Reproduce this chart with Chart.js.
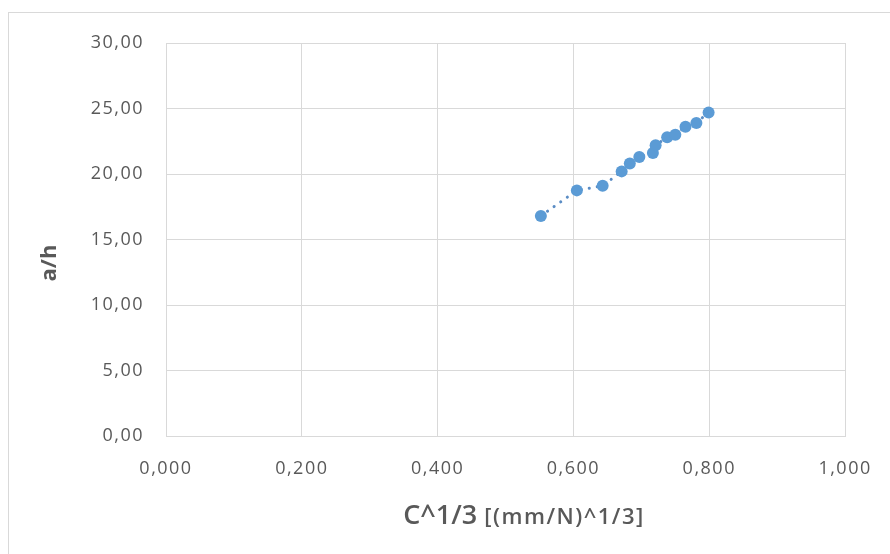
<!DOCTYPE html>
<html>
<head>
<meta charset="utf-8">
<script src="https://cdn.jsdelivr.net/npm/chart.js@4/dist/chart.umd.min.js"></script>
<style>
  html, body { margin: 0; padding: 0; background: #fff; }
  #wrap { width: 890px; height: 554px; position: relative; }
</style>
</head>
<body>
<div id="wrap"><canvas id="chart" width="890" height="554"></canvas></div>
<script>
// C^1/3 against a/h, one measured series
const cRoot = [0.552, 0.605, 0.643, 0.671, 0.683, 0.697, 0.717, 0.721, 0.738, 0.750, 0.765, 0.781, 0.799];
const aOverH = [16.8, 18.75, 19.1, 20.2, 20.8, 21.3, 21.6, 22.2, 22.8, 23.0, 23.6, 23.9, 24.7];

const xTickLabels = ['0,000', '0,200', '0,400', '0,600', '0,800', '1,000'];
const yTickLabels = ['0,00', '5,00', '10,00', '15,00', '20,00', '25,00', '30,00'];

const TEXT = '#595959';
const GRID = '#d9d9d9';
const BLUE = '#5b9bd5';

// frame line and hand-set axis titles (x title mixes two font sizes)
const decor = {
  id: 'decor',
  beforeDraw(chart) {
    const ctx = chart.ctx;
    ctx.save();
    ctx.strokeStyle = GRID;
    ctx.lineWidth = 1;
    ctx.strokeRect(8.5, 12.5, 1000, 1000);
    ctx.restore();
    ctx.letterSpacing = '1.5px';
  },
  afterDraw(chart) {
    const ctx = chart.ctx;
    ctx.save();
    ctx.fillStyle = TEXT;
    ctx.textBaseline = 'alphabetic';

    const partA = 'C^1/3 ';
    const partB = '[(mm/N)^1/3]';
    const fontA = '600 27px "Open Sans"';
    const fontB = '600 22px "Open Sans"';
    ctx.font = fontA;
    ctx.letterSpacing = '0px';
    const wA = ctx.measureText(partA).width;
    ctx.font = fontB;
    ctx.letterSpacing = '1.5px';
    const wB = ctx.measureText(partB).width;
    const x = 524 - (wA + wB) / 2;
    ctx.font = fontA;
    ctx.letterSpacing = '0px';
    ctx.fillText(partA, x, 524);
    ctx.font = fontB;
    ctx.letterSpacing = '1.5px';
    ctx.fillText(partB, x + wA, 524);

    ctx.letterSpacing = '0px';
    ctx.translate(50, 263);
    ctx.rotate(-Math.PI / 2);
    ctx.textAlign = 'center';
    ctx.textBaseline = 'middle';
    ctx.font = 'bold 22px "Open Sans"';
    ctx.fillText('a/h', 0, 0);
    ctx.restore();
  }
};

new Chart(document.getElementById('chart'), {
  type: 'scatter',
  data: {
    datasets: [{
      data: cRoot.map((c, i) => ({ x: c, y: aOverH[i] })),
      showLine: true,
      borderColor: '#5a8cc4',
      borderWidth: 3,
      borderDash: [0.1, 8],
      borderCapStyle: 'round',
      backgroundColor: BLUE,
      pointBackgroundColor: BLUE,
      pointBorderWidth: 0,
      pointRadius: 6,
      tension: 0
    }]
  },
  options: {
    responsive: false,
    animation: false,
    layout: { padding: { left: 0, top: 43, right: 42, bottom: 0 } },
    plugins: { legend: { display: false }, tooltip: { enabled: false } },
    scales: {
      x: {
        type: 'linear',
        min: 0, max: 1,
        ticks: {
          stepSize: 0.2,
          padding: 22,
          color: TEXT,
          font: { family: 'Open Sans', size: 18 },
          callback: (v, i) => xTickLabels[i]
        },
        grid: { color: GRID, drawTicks: false },
        border: { color: GRID },
        afterFit: s => { s.height = 118; }
      },
      y: {
        min: 0, max: 30,
        ticks: {
          stepSize: 5,
          padding: 22,
          color: TEXT,
          font: { family: 'Open Sans', size: 18 },
          callback: (v, i) => yTickLabels[i]
        },
        grid: { color: GRID, drawTicks: false },
        border: { color: GRID },
        afterFit: s => { s.width = 166; }
      }
    }
  },
  plugins: [decor]
});
</script>
</body>
</html>
